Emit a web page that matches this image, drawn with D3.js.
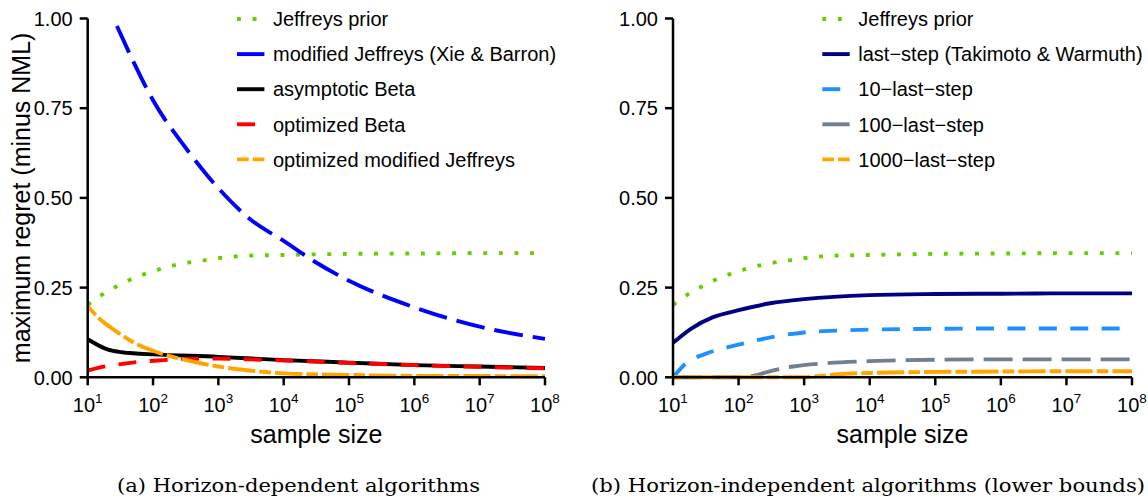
<!DOCTYPE html>
<html>
<head>
<meta charset="utf-8">
<script src="https://cdn.jsdelivr.net/npm/d3@7"></script>
<style>
  body { margin: 0; background: #fff; }
  svg { display: block; }
</style>
</head>
<body>
<div id="chart"></div>
<script>
// ---- data ----
const yTicks = [0, 0.25, 0.5, 0.75, 1];
const xTickExps = [1, 2, 3, 4, 5, 6, 7, 8];

// shared
const jeffreysN = [10, 15, 25, 40, 70, 120, 200, 330, 600, 1e3, 3e3, 1e4, 1e5, 1e6, 1e7, 1e8];
const jeffreysRegret = [0.202, 0.225, 0.249, 0.268, 0.286, 0.300, 0.311, 0.319, 0.326, 0.332, 0.339, 0.341, 0.344, 0.345, 0.346, 0.346];

// (a) horizon-dependent
const xieBarronN = [28, 50, 100, 300, 1e3, 3e3, 1e4, 3e4, 1e5, 1e6, 1e7, 1e8];
const xieBarronRegret = [0.979, 0.88, 0.772, 0.645, 0.527, 0.442, 0.380, 0.322, 0.269, 0.195, 0.141, 0.107];

const asymBetaN = [10, 20, 30, 50, 100, 1e3, 1e4, 1e5, 1e6, 1e7, 1e8];
const asymBetaRegret = [0.106, 0.078, 0.071, 0.067, 0.064, 0.057, 0.048, 0.041, 0.034, 0.030, 0.026];

const optBetaN = [10, 15, 30, 60, 120, 300, 1e3, 3e3, 1e4, 1e5, 1e6, 1e7, 1e8];
const optBetaRegret = [0.019, 0.027, 0.036, 0.043, 0.047, 0.051, 0.052, 0.050, 0.047, 0.040, 0.034, 0.029, 0.025];

const optModJeffN = [10, 15, 25, 40, 60, 100, 200, 400, 1e3, 3e3, 1e4, 1e5, 1e6, 1e7, 1e8];
const optModJeffRegret = [0.198, 0.164, 0.133, 0.108, 0.090, 0.074, 0.057, 0.044, 0.030, 0.019, 0.011, 0.0065, 0.004, 0.0035, 0.003];

// (b) horizon-independent
const lastStepN = [10, 19, 40, 100, 320, 1e3, 1e4, 1e5, 1e6, 1e7, 1e8];
const lastStepRegret = [0.096, 0.136, 0.167, 0.187, 0.207, 0.218, 0.229, 0.232, 0.233, 0.234, 0.234];

const last10N = [10, 16, 32, 100, 320, 1e3, 3e3, 1e4, 1e5, 1e6, 1e7, 1e8];
const last10Regret = [0.0, 0.040, 0.066, 0.091, 0.112, 0.125, 0.130, 0.133, 0.135, 0.136, 0.136, 0.136];

const last100N = [10, 100, 155, 290, 680, 2100, 1e4, 1e5, 1e6, 1e7, 1e8];
const last100Regret = [0, 0, 0.003, 0.016, 0.030, 0.039, 0.045, 0.049, 0.050, 0.050, 0.050];

const last1000N = [10, 1e3, 1800, 4400, 1e4, 1e5, 1e6, 1e7, 1e8];
const last1000Regret = [0, 0, 0.004, 0.010, 0.012, 0.015, 0.016, 0.017, 0.017];

const dash = {
  dotted: "3.9,11.7",
  longdash: "29,10",
  solid: null,
  dashed: "18,13.4",
  twodash: "11.7,4,27.4,4"
};

const seriesA = [
  { label: "Jeffreys prior", n: jeffreysN, v: jeffreysRegret, color: "#66cd00", lty: "dotted" },
  { label: "modified Jeffreys (Xie & Barron)", n: xieBarronN, v: xieBarronRegret, color: "#0000ff", lty: "longdash" },
  { label: "asymptotic Beta", n: asymBetaN, v: asymBetaRegret, color: "#000000", lty: "solid" },
  { label: "optimized Beta", n: optBetaN, v: optBetaRegret, color: "#ff0000", lty: "dashed" },
  { label: "optimized modified Jeffreys", n: optModJeffN, v: optModJeffRegret, color: "#ffa500", lty: "twodash" }
];

const seriesB = [
  { label: "Jeffreys prior", n: jeffreysN, v: jeffreysRegret, color: "#66cd00", lty: "dotted" },
  { label: "last\u2212step (Takimoto & Warmuth)", n: lastStepN, v: lastStepRegret, color: "#000080", lty: "solid" },
  { label: "10\u2212last\u2212step", n: last10N, v: last10Regret, color: "#1e90ff", lty: "dashed" },
  { label: "100\u2212last\u2212step", n: last100N, v: last100Regret, color: "#708090", lty: "longdash" },
  { label: "1000\u2212last\u2212step", n: last1000N, v: last1000Regret, color: "#ffa500", lty: "twodash" }
];

const W = 1148, H = 500;
const sans = "'Liberation Sans', Arial, Helvetica, sans-serif";

const svg = d3.select("#chart").append("svg")
  .attr("width", W)
  .attr("height", H);

function drawPanel(x0, x1, series, showYLabel, caption, capX) {
  const x = d3.scaleLog().domain([10, 1e8]).range([x0, x1]);
  const y = d3.scaleLinear().domain([0, 1]).range([377.3, 18.5]);
  const g = svg.append("g");

  const line = d3.line()
    .curve(d3.curveMonotoneX)
    .x(d => x(d[0]))
    .y(d => y(d[1]));

  series.forEach(s => {
    g.append("path")
      .datum(s.n.map((n, i) => [n, s.v[i]]))
      .attr("fill", "none")
      .attr("stroke", s.color)
      .attr("stroke-width", 3.9)
      .attr("stroke-dasharray", dash[s.lty])
      .attr("d", line);
  });

  // y axis
  g.append("line")
    .attr("x1", x0).attr("x2", x0)
    .attr("y1", y(0)).attr("y2", y(1))
    .attr("stroke", "#000").attr("stroke-width", 2.5);
  yTicks.forEach(t => {
    g.append("line")
      .attr("x1", x0 - 8).attr("x2", x0)
      .attr("y1", y(t)).attr("y2", y(t))
      .attr("stroke", "#000").attr("stroke-width", 2.5);
    g.append("text")
      .attr("x", x0 - 15)
      .attr("y", y(t))
      .attr("dy", "0.36em")
      .attr("text-anchor", "end")
      .style("font-family", sans)
      .style("font-size", "20px")
      .text(d3.format(".2f")(t));
  });

  // x axis
  g.append("line")
    .attr("x1", x0).attr("x2", x1)
    .attr("y1", y(0)).attr("y2", y(0))
    .attr("stroke", "#000").attr("stroke-width", 2.5);
  xTickExps.forEach(e => {
    const px = x(Math.pow(10, e));
    g.append("line")
      .attr("x1", px).attr("x2", px)
      .attr("y1", y(0)).attr("y2", y(0) + 8)
      .attr("stroke", "#000").attr("stroke-width", 2.5);
    const t = g.append("text")
      .attr("x", px)
      .attr("y", 412)
      .attr("text-anchor", "middle")
      .style("font-family", sans)
      .style("font-size", "20px");
    t.append("tspan").text("10");
    t.append("tspan").attr("dy", -8.7).style("font-size", "13.5px").text(e);
  });

  g.append("text")
    .attr("x", (x0 + x1) / 2)
    .attr("y", 443)
    .attr("text-anchor", "middle")
    .style("font-family", sans)
    .style("font-size", "25px")
    .text("sample size");

  if (showYLabel) {
    g.append("text")
      .attr("transform", `translate(29.5,${(y(0) + y(1)) / 2}) rotate(-90)`)
      .attr("text-anchor", "middle")
      .style("font-family", sans)
      .style("font-size", "25px")
      .text("maximum regret (minus NML)");
  }

  // legend
  const lx = x0 + 149.3;
  series.forEach((s, i) => {
    const ly = 19 + i * 35.1;
    g.append("line")
      .attr("x1", lx).attr("x2", lx + 27.4)
      .attr("y1", ly).attr("y2", ly)
      .attr("stroke", s.color)
      .attr("stroke-width", 3.9)
      .attr("stroke-dasharray", dash[s.lty]);
    g.append("text")
      .attr("x", lx + 36)
      .attr("y", ly)
      .attr("dy", "0.36em")
      .style("font-family", sans)
      .style("font-size", "20px")
      .text(s.label);
  });

  // caption
  g.append("text")
    .attr("x", capX[0])
    .attr("y", 492)
    .attr("textLength", capX[1] - capX[0])
    .attr("lengthAdjust", "spacingAndGlyphs")
    .style("font-family", "'DejaVu Serif', 'Liberation Serif', serif")
    .style("font-size", "19px")
    .text(caption);
}

drawPanel(87.7, 545, seriesA, true, "(a) Horizon-dependent algorithms", [117, 480]);
drawPanel(673, 1132, seriesB, false, "(b) Horizon-independent algorithms (lower bounds)", [591, 1145]);
</script>
</body>
</html>
